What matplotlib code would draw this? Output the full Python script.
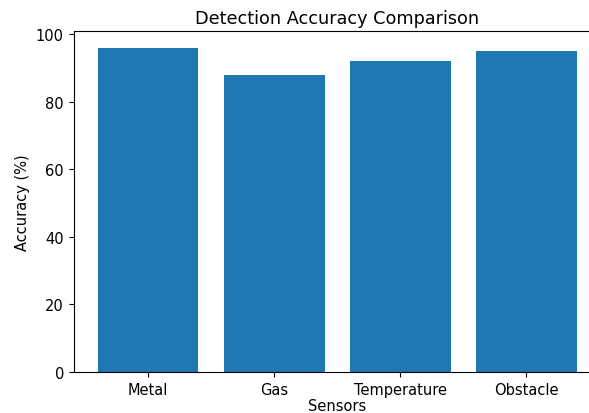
import matplotlib

matplotlib.use("Agg")
import matplotlib.pyplot as plt

sensors = ["Metal", "Gas", "Temperature", "Obstacle"]
accuracy = [96, 88, 92, 95]

plt.rcParams.update({"font.size": 10.5, "axes.titlesize": 12.7})

fig = plt.figure(figsize=(5.89, 4.14), dpi=100)
ax = fig.add_axes([0.125, 0.099, 0.895, 0.8225])
ax.bar(sensors, accuracy, color="#1f77b4")
ax.set_title("Detection Accuracy Comparison")
ax.set_xlabel("Sensors", labelpad=1)
ax.set_ylabel("Accuracy (%)")
# the reference is cropped just before the right spine
ax.spines["right"].set_visible(False)

fig.savefig("out.png", dpi=100)
